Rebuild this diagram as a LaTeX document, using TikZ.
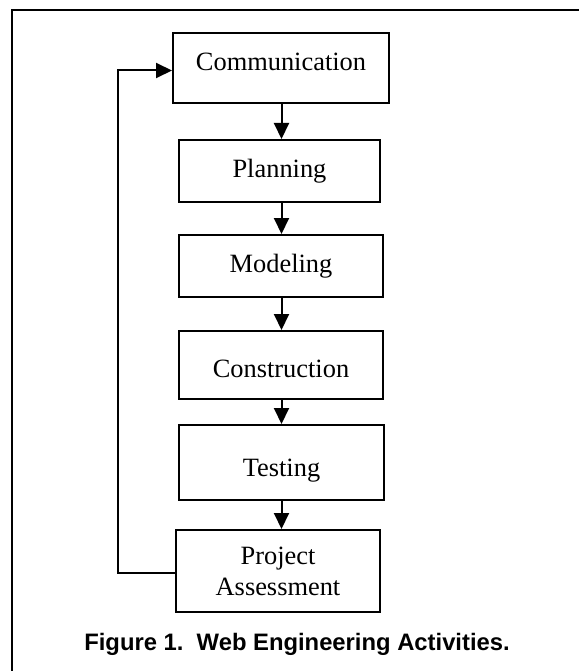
\documentclass[tikz,border=0pt]{standalone}
\usepackage{fontspec}
\setmainfont{Liberation Serif}
\newfontfamily\capfont{Liberation Sans}
\usetikzlibrary{arrows.meta}
\begin{document}
\begin{tikzpicture}[x=1pt,y=-1pt,
  stagebox/.style={draw, line width=2pt, inner sep=0pt, align=center,
    font=\fontsize{26.4}{31}\selectfont},
  arr/.style={line width=2pt, -{Triangle[length=16pt,width=15pt]}},
  frameline/.style={line width=2.8pt}]
\useasboundingbox (0,0) rectangle (578,671);
% frame (top and left edges, cropped at right and bottom)
\draw[frameline] (12,672) -- (12,10) -- (579,10);
% stages
\node[stagebox, minimum width=216pt, minimum height=70pt, text height=18pt, text depth=12pt] (comm) at (281,68) {Communication};
\node[stagebox, minimum width=201pt, minimum height=62pt, text height=18pt, text depth=4pt] (plan) at (279.5,171) {Planning};
\node[stagebox, minimum width=204pt, minimum height=62pt, text height=18pt, text depth=6pt] (model) at (281,266) {Modeling};
\node[stagebox, minimum width=204pt, minimum height=68pt, text height=24pt, text depth=0pt] (constr) at (281,365) {Construction};
\node[stagebox, minimum width=205pt, minimum height=75pt, text height=27pt, text depth=0pt] (test) at (281.5,462.5) {Testing};
\node[stagebox, minimum width=204pt, minimum height=82pt] (pa) at (278,571) {Project\\Assessment};
% connectors
\coordinate (ax) at (281.5,0);
\coordinate (fb) at (118,70.5);
\draw[arr] (comm.south -| ax) -- (plan.north -| ax);
\draw[arr] (plan.south -| ax) -- (model.north -| ax);
\draw[arr] (model.south -| ax) -- (constr.north -| ax);
\draw[arr] (constr.south -| ax) -- (test.north -| ax);
\draw[arr] (test.south -| ax) -- (pa.north -| ax);
\draw[arr] ([yshift=-2pt]pa.west) -| (fb) -- (comm.west |- fb);
% caption
\node[anchor=base, inner sep=0pt, font=\capfont\bfseries\fontsize{23.8}{28}\selectfont] (caption) at (297,650) {\frenchspacing Figure 1.\ \ Web Engineering Activities.};
\end{tikzpicture}
\end{document}
